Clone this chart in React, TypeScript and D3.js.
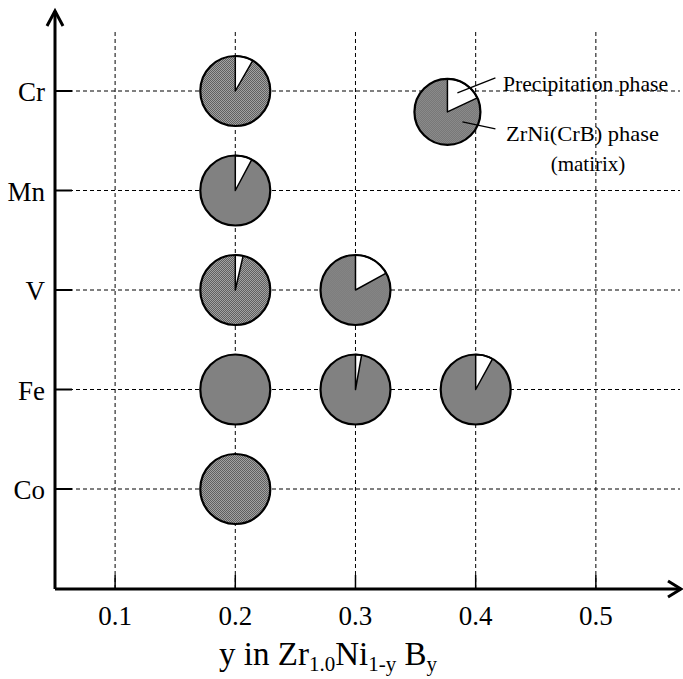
import React from 'react';
import * as d3 from 'd3';

// substitution element (rows) and boron content y (columns)
const elements = ['Cr', 'Mn', 'V', 'Fe', 'Co'];
const xTicks = [0.1, 0.2, 0.3, 0.4, 0.5];

// each sample: element, y, fraction of precipitation phase
const sampleElement = ['Cr', 'Mn', 'V', 'V', 'Fe', 'Fe', 'Fe', 'Co'];
const sampleY = [0.2, 0.2, 0.2, 0.3, 0.2, 0.3, 0.4, 0.2];
const precipFraction = [0.083, 0.078, 0.036, 0.17, 0, 0.028, 0.08, 0];

const legendFraction = 0.18;

const W = 683;
const H = 679;
const FONT = '"Liberation Serif", "Times New Roman", serif';

const App = () => {
  const x = d3.scaleLinear().domain([0.05, 0.57]).range([55, 680]);
  const y = d3.scalePoint<string>().domain(elements).range([91, 489]);
  const x0 = 55;
  const yBase = 589;
  const r = 35;

  const pie = d3.pie<number>().sort(null).value(d => d);

  const drawPie = (frac: number, cx: number, cy: number, key: string, rad = r) => {
    const a = d3.arc<d3.PieArcDatum<number>>().innerRadius(0).outerRadius(rad);
    const slices = pie([frac, 1 - frac]);
    return (
      <g key={key} transform={`translate(${cx},${cy})`}>
        <circle r={rad} fill="url(#hatch)" />
        {frac > 0 && (
          <path d={a(slices[0]) || ''} fill="#fff" stroke="#000" strokeWidth={1.5} strokeLinejoin="round" />
        )}
        <circle r={rad} fill="none" stroke="#000" strokeWidth={2.2} />
      </g>
    );
  };

  const legX = x(0.3765);
  const legY = (y('Cr') as number) + 0.21 * ((y('Mn') as number) - (y('Cr') as number));

  return (
    <svg width={W} height={H} style={{ position: 'absolute', left: 0, top: 0, background: '#fff' }}>
      <defs>
        <pattern id="hatch" width={2} height={2} patternUnits="userSpaceOnUse">
          <rect width={2} height={2} fill="#cfcfcf" />
          <rect width={1} height={1} fill="#333" />
          <rect x={1} y={1} width={1} height={1} fill="#333" />
        </pattern>
      </defs>

      {/* grid */}
      {xTicks.map(t => (
        <line key={'vx' + t} x1={x(t)} x2={x(t)} y1={32} y2={yBase}
          stroke="#000" strokeWidth={1} strokeDasharray="4,3" />
      ))}
      {elements.map(e => (
        <line key={'hy' + e} x1={x0} x2={680} y1={y(e)} y2={y(e)}
          stroke="#000" strokeWidth={1} strokeDasharray="4,3" />
      ))}

      {/* ticks */}
      {xTicks.map(t => (
        <line key={'tx' + t} x1={x(t)} x2={x(t)} y1={yBase} y2={yBase - 14} stroke="#000" strokeWidth={1.5} />
      ))}
      {elements.map(e => (
        <line key={'ty' + e} x1={x0} x2={x0 + 17} y1={y(e)} y2={y(e)} stroke="#000" strokeWidth={2} />
      ))}

      {/* axes with arrows */}
      <line x1={x0} x2={x0} y1={11} y2={yBase} stroke="#000" strokeWidth={3} />
      <line x1={x0} x2={681} y1={yBase} y2={yBase} stroke="#000" strokeWidth={3} />
      <polyline points={`${x0 - 8},${26} ${x0},${11} ${x0 + 8},${26}`} fill="none" stroke="#000" strokeWidth={3} />
      <polyline points={`${668},${yBase - 8} ${681},${yBase} ${668},${yBase + 8}`} fill="none" stroke="#000" strokeWidth={3} />

      {/* tick labels */}
      {xTicks.map(t => (
        <text key={'lx' + t} x={x(t)} y={625} textAnchor="middle" fontFamily={FONT} fontSize={27}>
          {d3.format('.1f')(t)}
        </text>
      ))}
      {elements.map(e => (
        <text key={'ly' + e} x={45} y={(y(e) as number) + 10} textAnchor="end" fontFamily={FONT} fontSize={27}>
          {e}
        </text>
      ))}

      {/* samples */}
      {sampleElement.map((e, i) =>
        drawPie(precipFraction[i], x(sampleY[i]), y(e) as number, 's' + i)
      )}

      {/* legend */}
      {drawPie(legendFraction, legX, legY, 'legend', 33)}
      <line x1={legX + 10} x2={legX + 48} y1={legY - 19} y2={legY - 34} stroke="#000" strokeWidth={1.3} />
      <line x1={legX + 15} x2={legX + 48} y1={legY + 10} y2={legY + 17} stroke="#000" strokeWidth={1.3} />
      <text x={503} y={91} fontFamily={FONT} fontSize={21} textLength={165} lengthAdjust="spacingAndGlyphs">Precipitation phase</text>
      <text x={506} y={141} fontFamily={FONT} fontSize={21} textLength={153} lengthAdjust="spacingAndGlyphs">ZrNi(CrB) phase</text>
      <text x={588} y={171} textAnchor="middle" fontFamily={FONT} fontSize={21}>(matirix)</text>

      {/* x axis title */}
      <text x={328} y={665} textAnchor="middle" fontFamily={FONT} fontSize={33}>
        y in Zr<tspan fontSize={21} dy={6}>1.0</tspan>
        <tspan dy={-6}>Ni</tspan>
        <tspan fontSize={21} dy={6}>1-y</tspan>
        <tspan dy={-6}> B</tspan>
        <tspan fontSize={21} dy={6}>y</tspan>
      </text>
    </svg>
  );
};

export default App;
